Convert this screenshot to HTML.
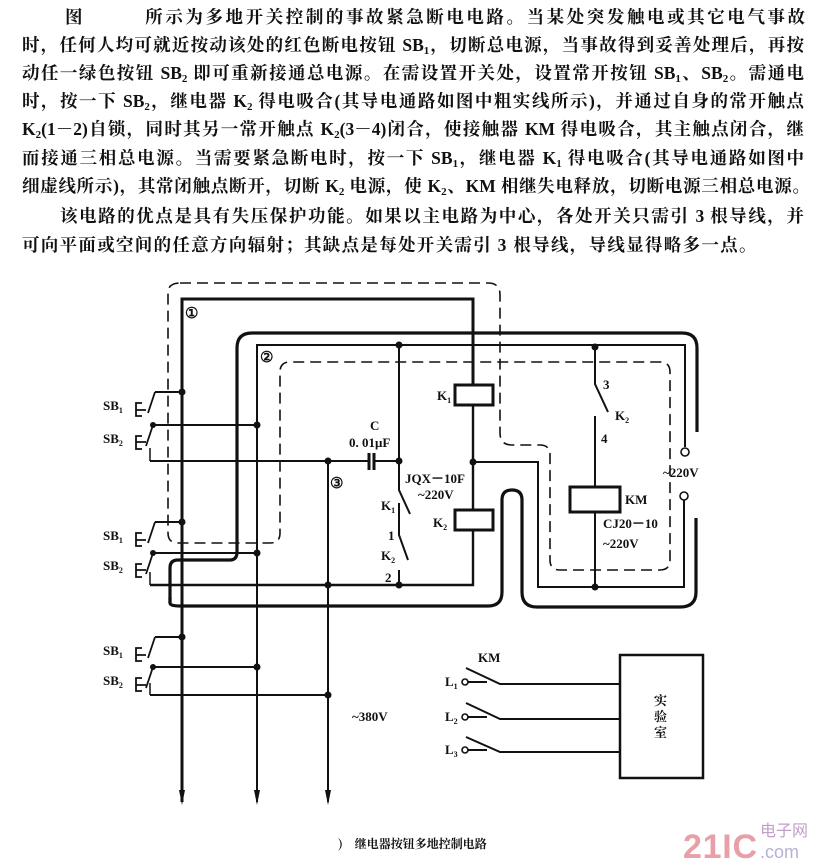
<!DOCTYPE html>
<html><head><meta charset="utf-8"><style>
body{margin:0;background:#fff;width:824px;height:866px;overflow:hidden;position:relative;font-family:"Liberation Serif","Noto Serif CJK SC",serif;color:#111}
.l{position:absolute;left:22px;width:782px;font-size:17.5px;line-height:22px;white-space:nowrap;text-align:justify;text-align-last:justify;font-weight:bold}
sub{font-size:11px;vertical-align:-3px;line-height:0}
svg{position:absolute;left:0;top:0}
</style></head><body>
<div class="l" style="top:6px;left:65px;width:740px">图　　　所示为多地开关控制的事故紧急断电电路。当某处突发触电或其它电气事故</div>
<div class="l" style="top:34px">时，任何人均可就近按动该处的红色断电按钮 SB<sub>1</sub>，切断总电源，当事故得到妥善处理后，再按</div>
<div class="l" style="top:62px">动任一绿色按钮 SB<sub>2</sub> 即可重新接通总电源。在需设置开关处，设置常开按钮 SB<sub>1</sub>、SB<sub>2</sub>。需通电</div>
<div class="l" style="top:90px">时，按一下 SB<sub>2</sub>，继电器 K<sub>2</sub> 得电吸合(其导电通路如图中粗实线所示)，并通过自身的常开触点</div>
<div class="l" style="top:118px">K<sub>2</sub>(1－2)自锁，同时其另一常开触点 K<sub>2</sub>(3－4)闭合，使接触器 KM 得电吸合，其主触点闭合，继</div>
<div class="l" style="top:147px">而接通三相总电源。当需要紧急断电时，按一下 SB<sub>1</sub>，继电器 K<sub>1</sub> 得电吸合(其导电通路如图中</div>
<div class="l" style="top:175px;width:788px">细虚线所示)，其常闭触点断开，切断 K<sub>2</sub> 电源，使 K<sub>2</sub>、KM 相继失电释放，切断电源三相总电源。</div>
<div class="l" style="top:205px;left:60px;width:744px">该电路的优点是具有失压保护功能。如果以主电路为中心，各处开关只需引 3 根导线，并</div>
<div class="l" style="top:234px;width:760px;text-align-last:left;letter-spacing:1.3px">可向平面或空间的任意方向辐射；其缺点是每处开关需引 3 根导线，导线显得略多一点。</div>

<svg width="824" height="866" viewBox="0 0 824 866" font-family="Liberation Serif, serif" fill="none" stroke="#111">
<path d="M180 283 H488 Q500 283 500 295 V433 Q500 445 512 445 H540 Q550 445 550 455 V560 Q550 570 560 570 H660 Q670 570 670 560 V372 Q670 362 660 362 H290 Q280 362 280 372 V533 Q280 543 270 543 H178 Q168 543 168 533 V293 Q168 283 180 283 Z" stroke-width="1.6" stroke-dasharray="11,6"/>
<path d="M182 802 V299 H473 V385" stroke-width="3"/>
<path d="M473 405 V510 M473 530 V585 H150" stroke-width="2.4"/>
<rect x="455" y="385" width="38" height="20" stroke-width="3"/>
<rect x="455" y="510" width="38" height="20" stroke-width="3"/>
<path d="M170 603 V568 Q170 560 178 560 H230 Q237 560 237 552 V348 Q237 333 252 333 H682 Q697 333 697 348 V432" stroke-width="3.2"/>
<path d="M170 597 V603 Q170 606 180 606 H488 Q502 606 502 592 V500 Q502 490 512 490 Q522 490 522 500 V592 Q522 607 537 607 H680 Q696 607 696 592 V518" stroke-width="3.2"/>
<path d="M257 802 V345 H685 V447" stroke-width="2"/>
<circle cx="685" cy="452" r="4" stroke-width="1.6" fill="#fff"/>
<circle cx="684" cy="496" r="4" stroke-width="1.6" fill="#fff"/>
<path d="M684 500 V587 H538 V462 H473" stroke-width="2"/>
<path d="M595 347 V384 L608 412 M595 416 V487 M595 512 V587" stroke-width="2"/>
<rect x="570" y="487" width="50" height="25" stroke-width="3"/>
<path d="M328 802 V461 M150 461 H368 M374 461 H399 M399 345 V490 L410 514 M399 503 V535 L408 560 M399 570 V585" stroke-width="2"/>
<path d="M369 453 V470 M374 453 V470" stroke-width="3"/>
<path d="M155 392 H182 M153 425 H257 M155 522 H182 M153 553 H257 M155 637 H182 M153 667 H257 M150 695 H328" stroke-width="2"/>
<path d="M150 461 V448 M150 585 V572 M150 695 V683" stroke-width="1.5"/>
<g stroke-width="1.8">
<path d="M155 392 L148 413 M153 425 L146 446 M155 522 L148 543 M153 553 L146 574 M155 637 L148 658 M153 667 L146 688"/>
<path d="M142 403 H136 V416 H142 M136 410 H146 M142 436 H136 V449 H142 M136 442 H146 M142 533 H136 V546 H142 M136 540 H146 M142 564 H136 V577 H142 M136 570 H146 M142 648 H136 V661 H142 M136 655 H146 M142 678 H136 V691 H142 M136 685 H146"/>
</g>
<g fill="#111" stroke="none">
<circle cx="182" cy="392" r="3.5"/><circle cx="153" cy="425" r="3"/><circle cx="257" cy="425" r="3.5"/>
<circle cx="182" cy="522" r="3.5"/><circle cx="153" cy="553" r="3"/><circle cx="257" cy="553" r="3.5"/>
<circle cx="182" cy="637" r="3.5"/><circle cx="153" cy="667" r="3"/><circle cx="257" cy="667" r="3.5"/><circle cx="328" cy="695" r="3.5"/>
<circle cx="328" cy="461" r="3.5"/><circle cx="399" cy="461" r="3.5"/><circle cx="473" cy="462" r="3.5"/><circle cx="328" cy="585" r="3.5"/><circle cx="399" cy="585" r="3.5"/>
<circle cx="399" cy="345" r="3.5"/><circle cx="595" cy="347" r="3.5"/><circle cx="595" cy="587" r="3.5"/>
<path d="M179 790 L182 805 L185 790Z M254 790 L257 805 L260 790Z M325 790 L328 805 L331 790Z"/>
</g>
<g stroke-width="2">
<path d="M468 682 H487 M468 717 H487 M468 750 H487"/>
<path d="M466 668 L500 684 H620 M466 703 L500 719 H620 M466 737 L500 752 H620"/>
<rect x="620" y="655" width="83" height="123" stroke-width="2.5"/>
</g>
<circle cx="465" cy="682" r="3" stroke-width="1.6" fill="#fff"/><circle cx="465" cy="717" r="3" stroke-width="1.6" fill="#fff"/><circle cx="465" cy="750" r="3" stroke-width="1.6" fill="#fff"/>
<g fill="#111" stroke="none" font-size="13" font-weight="bold">
<text x="185" y="318" font-size="15">①</text><text x="260" y="362" font-size="15">②</text><text x="330" y="488" font-size="15">③</text>
<text x="103" y="410">SB<tspan font-size="8" dy="3">1</tspan></text>
<text x="103" y="443">SB<tspan font-size="8" dy="3">2</tspan></text>
<text x="103" y="540">SB<tspan font-size="8" dy="3">1</tspan></text>
<text x="103" y="570">SB<tspan font-size="8" dy="3">2</tspan></text>
<text x="103" y="655">SB<tspan font-size="8" dy="3">1</tspan></text>
<text x="103" y="685">SB<tspan font-size="8" dy="3">2</tspan></text>
<text x="370" y="430">C</text><text x="349" y="447">0. 01μF</text>
<text x="405" y="483">JQX－10F</text><text x="418" y="499">~220V</text>
<text x="381" y="510">K<tspan font-size="8" dy="3">1</tspan></text>
<text x="388" y="540">1</text>
<text x="381" y="560">K<tspan font-size="8" dy="3">2</tspan></text>
<text x="385" y="582">2</text>
<text x="437" y="400">K<tspan font-size="8" dy="3">1</tspan></text>
<text x="433" y="527">K<tspan font-size="8" dy="3">2</tspan></text>
<text x="603" y="389">3</text><text x="615" y="420">K<tspan font-size="8" dy="3">2</tspan></text><text x="601" y="443">4</text>
<text x="625" y="504">KM</text><text x="603" y="528">CJ20－10</text><text x="603" y="548">~220V</text>
<text x="663" y="477">~220V</text>
<text x="478" y="662">KM</text>
<text x="445" y="686">L<tspan font-size="8" dy="3">1</tspan></text><text x="445" y="721">L<tspan font-size="8" dy="3">2</tspan></text><text x="445" y="754">L<tspan font-size="8" dy="3">3</tspan></text>
<text x="352" y="721">~380V</text>
<text x="654" y="705" font-family="Noto Serif CJK SC, serif">实</text><text x="654" y="721" font-family="Noto Serif CJK SC, serif">验</text><text x="654" y="737" font-family="Noto Serif CJK SC, serif">室</text>
<text x="338" y="848" font-size="12" font-family="Noto Serif CJK SC, serif">)　继电器按钮多地控制电路</text>
</g>
<text x="683" y="858" font-size="34" font-weight="bold" fill="#e8a0a8" stroke="none" font-family="Liberation Sans, sans-serif" textLength="74">21IC</text>
<text x="760" y="836" font-size="16" fill="#c0a0c8" stroke="none" font-family="Noto Sans CJK SC, sans-serif">电子网</text>
<text x="760" y="858" font-size="18" fill="#b8b0d8" stroke="none" font-family="Liberation Sans, sans-serif">.com</text>
</svg>
</body></html>
